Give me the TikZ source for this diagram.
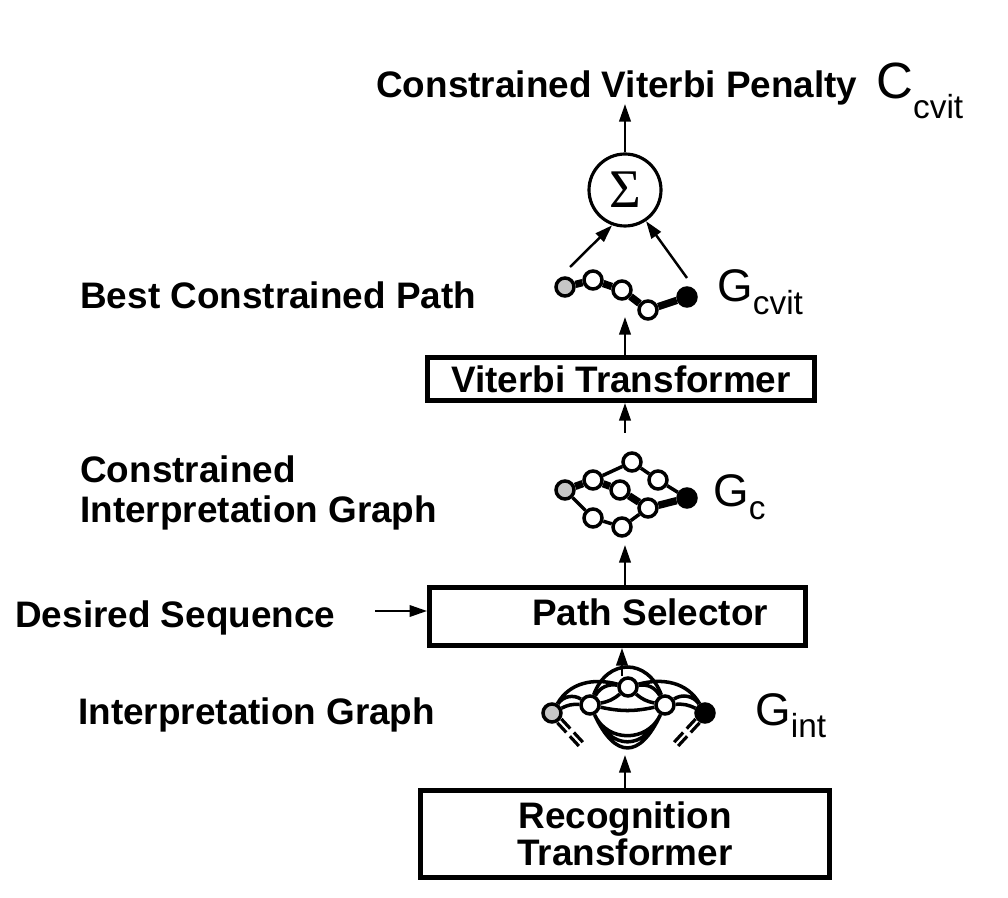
\documentclass[tikz,border=0pt]{standalone}
\usepackage{fontspec}
\setmainfont{Liberation Sans}
\newfontfamily\sigmafont{Liberation Serif}
\usetikzlibrary{arrows.meta,backgrounds}
\newcommand{\Gsym}[1]{{\fontsize{26}{26}\selectfont G}\raisebox{-7pt}{\fontsize{19}{19}\selectfont #1}}
\newcommand{\Csym}{{\fontsize{29}{29}\selectfont C}\raisebox{-11pt}{\fontsize{19}{19}\selectfont cvit}}

\begin{document}
\begin{tikzpicture}[x=0.02cm,y=0.02cm,
  lbl/.style={font=\bfseries\fontsize{21}{21}\selectfont, inner sep=0pt},
  glbl/.style={inner sep=0pt},
  box/.style={draw, line width=2.8pt, inner sep=0pt},
  flow/.style={line width=1.4pt, -{Triangle[length=10pt,width=6.5pt]}},
  gnode/.style={circle, draw, line width=2pt, fill=white, inner sep=0pt, minimum size=0.36cm},
  gstart/.style={gnode, fill=gray!45},
  gend/.style={gnode, fill=black},
  gedge/.style={line width=2pt},
  gbest/.style={line width=4.2pt},
  gdash/.style={line width=1.8pt, dash pattern=on 7.5pt off 3pt}]

  \useasboundingbox (0,0) rectangle (1008,-898);

  %% ---- penalty and sum ----
  \node[lbl, anchor=base west] (cvpen) at (376,-98) {Constrained Viterbi Penalty};
  \node[glbl, anchor=base west] (ccvit) at (876,-99) {\Csym};
  \node[circle, draw, line width=1.8pt, minimum size=1.44cm, inner sep=0pt,
        font=\sigmafont\fontsize{31}{31}\selectfont] (sum) at (625,-190) {Σ};
  \coordinate (penin) at (625,-104);
  \draw[flow] (sum) -- (penin);

  %% ---- best constrained path ----
  \node[lbl, anchor=base west] (bcp) at (80,-309) {Best Constrained Path};
  \node[gstart] (p0) at (565,-287) {};
  \node[gnode]  (p1) at (593,-280) {};
  \node[gnode]  (p2) at (622,-290) {};
  \node[gnode]  (p3) at (648,-310) {};
  \node[gend]   (p4) at (687,-297) {};
  \draw[gbest] (p0) -- (p1) -- (p2) -- (p3) -- (p4);
  \node[glbl, anchor=base west] (gcvit) at (717,-302) {\Gsym{cvit}};
  \coordinate (sumfl) at (570,-267);
  \coordinate (sumfr) at (687,-278);
  \draw[flow] (sumfl) -- (sum.-110);
  \draw[flow] (sumfr) -- (sum.-56);

  %% ---- viterbi transformer ----
  \node[box, minimum width=7.74cm, minimum height=0.86cm, lbl] (vit) at (621,-379) {Viterbi Transformer};
  \coordinate (gcvin) at (625,-317);
  \draw[flow] (vit.north -| gcvin) -- (gcvin);

  %% ---- constrained interpretation graph ----
  \node[lbl, anchor=base west] (cig1) at (80,-483) {Constrained};
  \node[lbl, anchor=base west] (cig2) at (80,-522) {Interpretation Graph};
  \node[gstart] (c0) at (565,-490) {};
  \node[gnode]  (c1) at (593,-480) {};
  \node[gnode]  (c2) at (632,-462) {};
  \node[gnode]  (c3) at (658,-480) {};
  \node[gnode]  (c4) at (620,-490) {};
  \node[gnode]  (c5) at (648,-508) {};
  \node[gnode]  (c6) at (593,-518) {};
  \node[gnode]  (c7) at (622,-527) {};
  \node[gend]   (c8) at (687,-498) {};
  \draw[gedge] (c1) -- (c2) -- (c3) -- (c8);
  \draw[gedge] (c0) -- (c6) -- (c7) -- (c5);
  \draw[gbest] (c0) -- (c1) -- (c4) -- (c5) -- (c8);
  \node[glbl, anchor=base west] (gc) at (713,-507) {\Gsym{c}};
  \coordinate (gcout) at (625,-433);
  \draw[flow] (gcout) -- (gcout |- vit.south);

  %% ---- path selector ----
  \node[box, minimum width=7.52cm, minimum height=1.16cm] (psel) at (617.5,-616.5) {};
  \node[lbl, anchor=base west] (pseltxt) at (532,-625) {Path Selector};
  \node[lbl, anchor=base west] (dseq) at (15,-627) {Desired Sequence};
  \coordinate (dsin) at (375,-611);
  \draw[flow] (dsin) -- (dsin -| psel.west);
  \coordinate (gcin) at (625,-545);
  \draw[flow] (psel.north -| gcin) -- (gcin);

  %% ---- interpretation graph ----
  \node[lbl, anchor=base west] (ig) at (78,-724) {Interpretation Graph};
  \node[gstart] (i0) at (552,-713) {};
  \node[gnode]  (i1) at (590,-705) {};
  \node[gnode]  (i2) at (628,-687) {};
  \node[gnode]  (i3) at (665,-705) {};
  \node[gend]   (i4) at (705,-713) {};
  \begin{scope}[on background layer]
    \draw[gedge] (i0) to[bend left=15] (i1) (i0) to[bend left=45] (i1)
                 (i0) to[out=60,in=165] (i2);
    \draw[gedge] (i1) to[bend left=35] (i2) (i1) to[bend right=15] (i2);
    \draw[gedge] (i2) to[bend left=35] (i3) (i2) to[bend right=15] (i3);
    \draw[gedge] (i3) to[bend left=45] (i4) (i3) to[bend left=15] (i4)
                 (i2) to[out=15,in=120] (i4);
    \draw[gedge] (i1) to[out=70,in=110,looseness=1.5] (i3)
                 (i1) to[bend right=12] (i3);
    %% paths dipping under the graph
    \draw[gedge] (i1) to[out=-65,in=-115,looseness=1.9] (i3)
                 (i1) to[out=-65,in=-115,looseness=1.55] (i3)
                 (i1) to[out=-65,in=-115,looseness=1.2] (i3);
  \end{scope}
  %% cut-off edges
  \draw[gdash] ([shift={(2,1.9)}]i0.-47) -- ++(25,-27);
  \draw[gdash] ([shift={(-2,-1.9)}]i0.-47) -- ++(25,-27);
  \draw[gdash] ([shift={(-2,1.9)}]i4.-133) -- ++(-25,-27);
  \draw[gdash] ([shift={(2,-1.9)}]i4.-133) -- ++(-25,-27);
  \node[glbl, anchor=base west] (gint) at (755,-725) {\Gsym{int}};
  \coordinate (giout) at (622,-676);
  \draw[flow] (giout) -- (giout |- psel.south);

  %% ---- recognition transformer ----
  \node[box, minimum width=8.18cm, minimum height=1.74cm, lbl, align=center] (rec) at (625,-834)
    {Recognition\\Transformer};
  \coordinate (giin) at (625,-755);
  \draw[flow] (rec.north -| giin) -- (giin);
\end{tikzpicture}
\end{document}
